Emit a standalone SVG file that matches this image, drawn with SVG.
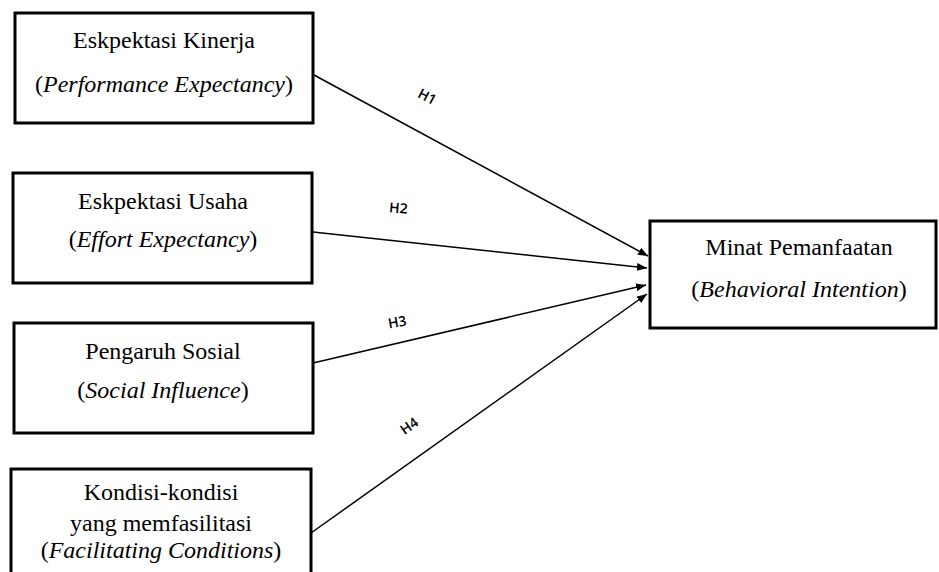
<svg xmlns="http://www.w3.org/2000/svg" width="939" height="572" viewBox="0 0 939 572">
<defs>
<marker id="ah" viewBox="0 0 10 8" refX="10" refY="4" markerWidth="10" markerHeight="8" markerUnits="userSpaceOnUse" orient="auto">
<path d="M0,0 L10,4 L0,8 z" fill="#000"/>
</marker>
</defs>
<rect width="939" height="572" fill="#fff"/>
<g id="connectors" stroke="#000" stroke-width="1.5" fill="none" marker-end="url(#ah)">
<line x1="314" y1="75" x2="648" y2="256"/>
<line x1="313" y1="232" x2="647" y2="268"/>
<line x1="313" y1="363" x2="646" y2="285"/>
<line x1="311" y1="533" x2="647" y2="294"/>
</g>
<g id="labels" fill="#000">
<text style="font-family:'Open Sans',sans-serif;font-size:14px;font-weight:600" text-anchor="middle" transform="translate(425,101) rotate(28)">H1</text>
<text style="font-family:'Open Sans',sans-serif;font-size:14px;font-weight:600" text-anchor="middle" transform="translate(398,213) rotate(5)">H2</text>
<text style="font-family:'Open Sans',sans-serif;font-size:14px;font-weight:600" text-anchor="middle" transform="translate(398,327) rotate(-10)">H3</text>
<text style="font-family:'Open Sans',sans-serif;font-size:14px;font-weight:600" text-anchor="middle" transform="translate(412,430) rotate(-35)">H4</text>
</g>
<g id="n1">
<rect x="15" y="13" width="298" height="110" fill="#fff" stroke="#000" stroke-width="3"/>
<text style="font-family:'Liberation Serif',serif;font-size:24px" text-anchor="middle" x="164" y="48">Eskpektasi Kinerja</text>
<text style="font-family:'Liberation Serif',serif;font-size:24px" text-anchor="middle" x="164" y="92">(<tspan style="font-style:italic">Performance Expectancy</tspan>)</text>
</g>
<g id="n2">
<rect x="13" y="173" width="299" height="110" fill="#fff" stroke="#000" stroke-width="3"/>
<text style="font-family:'Liberation Serif',serif;font-size:24px" text-anchor="middle" x="163" y="209">Eskpektasi Usaha</text>
<text style="font-family:'Liberation Serif',serif;font-size:24px" text-anchor="middle" x="163" y="247">(<tspan style="font-style:italic">Effort Expectancy</tspan>)</text>
</g>
<g id="n3">
<rect x="14" y="323" width="299" height="110" fill="#fff" stroke="#000" stroke-width="3"/>
<text style="font-family:'Liberation Serif',serif;font-size:24px" text-anchor="middle" x="163" y="359">Pengaruh Sosial</text>
<text style="font-family:'Liberation Serif',serif;font-size:24px" text-anchor="middle" x="163" y="398">(<tspan style="font-style:italic">Social Influence</tspan>)</text>
</g>
<g id="n4">
<rect x="11" y="469" width="300" height="120" fill="#fff" stroke="#000" stroke-width="3"/>
<text style="font-family:'Liberation Serif',serif;font-size:24px" text-anchor="middle" x="161" y="500">Kondisi-kondisi</text>
<text style="font-family:'Liberation Serif',serif;font-size:24px" text-anchor="middle" x="161" y="531">yang memfasilitasi</text>
<text style="font-family:'Liberation Serif',serif;font-size:24px" text-anchor="middle" x="161" y="558">(<tspan style="font-style:italic">Facilitating Conditions</tspan>)</text>
</g>
<g id="n5">
<rect x="650" y="221" width="286" height="107" fill="#fff" stroke="#000" stroke-width="3"/>
<text style="font-family:'Liberation Serif',serif;font-size:24px" text-anchor="middle" x="799" y="255">Minat Pemanfaatan</text>
<text style="font-family:'Liberation Serif',serif;font-size:24px" text-anchor="middle" x="799" y="297">(<tspan style="font-style:italic">Behavioral Intention</tspan>)</text>
</g>
</svg>
